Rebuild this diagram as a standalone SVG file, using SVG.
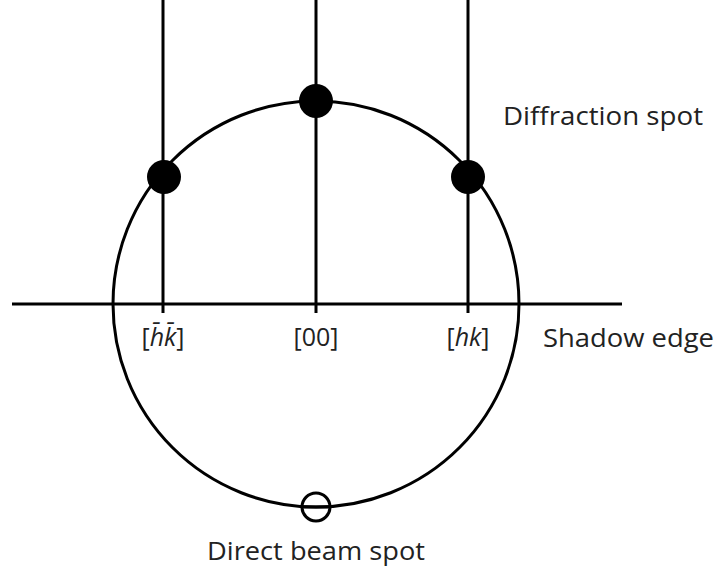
<svg xmlns="http://www.w3.org/2000/svg" width="720" height="572" viewBox="0 0 720 572">
<style>
.ln{stroke:#000;stroke-width:3;fill:none}
.t{font-family:"Open Sans","Liberation Sans",sans-serif;font-size:25px;fill:#222}
.i{font-style:italic}
</style>
<rect width="720" height="572" fill="#fff"/>
<g id="connectors">
<line class="ln" x1="12" y1="304" x2="622" y2="304"/>
<line class="ln" x1="163" y1="0" x2="163" y2="313"/>
<line class="ln" x1="316" y1="0" x2="316" y2="313"/>
<line class="ln" x1="468" y1="0" x2="468" y2="313"/>
</g>
<g id="ewald-circle"><circle class="ln" cx="316" cy="304" r="203"/></g>
<g id="spot-top"><circle cx="316" cy="101" r="17" fill="#000"/></g>
<g id="spot-left"><circle cx="164" cy="177" r="17" fill="#000"/></g>
<g id="spot-right"><circle cx="468" cy="177" r="17" fill="#000"/></g>
<g id="direct-beam"><circle class="ln" cx="316" cy="507" r="14" fill="#fff"/><line class="ln" x1="302" y1="507" x2="330" y2="507"/></g>
<g id="labels">
<text class="t" x="503" y="125" textLength="200" lengthAdjust="spacingAndGlyphs">Diffraction spot</text>
<text class="t" x="543" y="347" textLength="171" lengthAdjust="spacingAndGlyphs">Shadow edge</text>
<text class="t" x="316" y="346" text-anchor="middle">[00]</text>
<text class="t" x="468" y="346" text-anchor="middle">[<tspan class="i">hk</tspan>]</text>
<text class="t" x="163" y="346" text-anchor="middle">[<tspan class="i">h̄k̄</tspan>]</text>
<text class="t" x="207" y="560" textLength="218" lengthAdjust="spacingAndGlyphs">Direct beam spot</text>
</g>
</svg>
